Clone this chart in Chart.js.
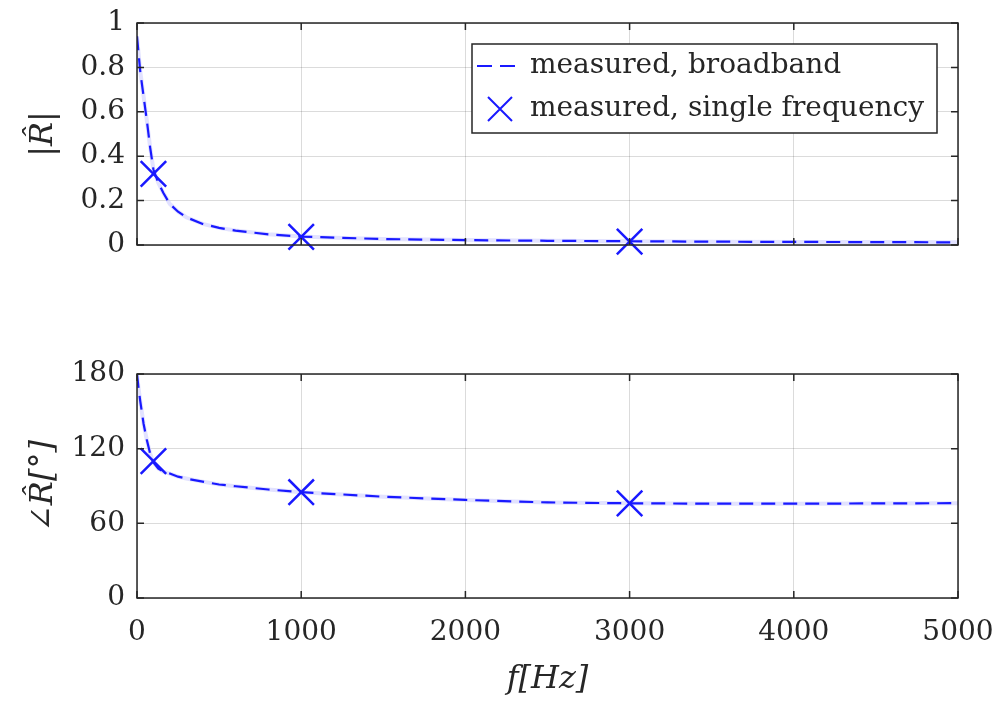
<!DOCTYPE html>
<html>
<head>
<meta charset="utf-8">
<script src="https://cdn.jsdelivr.net/npm/chart.js@4.4.1/dist/chart.umd.min.js"></script>
<style>
  html, body { margin: 0; padding: 0; background: #fff; }
  #top { position: absolute; left: 0; top: 0; width: 1000px; height: 270px; }
  #bot { position: absolute; left: 0; top: 340px; width: 1000px; height: 369px; }
</style>
</head>
<body>
<div id="top"><canvas id="magChart"></canvas></div>
<div id="bot"><canvas id="phaseChart"></canvas></div>
<script>
const freqBroad  = [0, 10, 20, 40, 60, 80, 100, 130, 160, 200, 250, 300, 400, 500, 600, 800, 1000, 1250, 1500, 2000, 2500, 3000, 3500, 4000, 4500, 5000];
const magBroad   = [0.94, 0.86, 0.78, 0.67, 0.56, 0.44, 0.34, 0.28, 0.235, 0.185, 0.15, 0.125, 0.095, 0.077, 0.065, 0.048, 0.038, 0.032, 0.027, 0.022, 0.019, 0.017, 0.015, 0.014, 0.013, 0.012];
const phaseBroad = [180, 168, 158, 140, 127, 116, 109, 104, 101.5, 100, 97.5, 96, 93.5, 91.2, 89.8, 87.2, 85, 83.2, 81.4, 78.8, 76.8, 76.1, 75.8, 75.8, 76, 76.2];

// single frequency measurements
const freqSingle  = [100, 1000, 3000];
const magSingle   = [0.32, 0.037, 0.015];
const phaseSingle = [110, 85, 76];

const xTicks     = [0, 1000, 2000, 3000, 4000, 5000];
const magTicks   = [0, 0.2, 0.4, 0.6, 0.8, 1];
const phaseTicks = [0, 60, 120, 180];

const labelBroad  = 'measured, broadband';
const labelSingle = 'measured, single frequency';

const BLUE = 'rgb(25,25,255)';
const DARK = '#262626';
const GRID = 'rgba(0,0,0,0.14)';
const SERIF = "'DejaVu Serif', 'Liberation Serif', serif";

function pts(xs, ys) {
  return xs.map((x, i) => ({ x: x, y: ys[i] }));
}

// box + inward tick marks like matlab
const boxPlugin = {
  id: 'box',
  afterDraw(chart) {
    const ctx = chart.ctx;
    const a = chart.chartArea;
    const xs = chart.scales.x, ys = chart.scales.y;
    ctx.save();
    ctx.strokeStyle = DARK;
    ctx.lineWidth = 1.5;
    ctx.beginPath();
    xs.ticks.forEach(t => {
      const px = xs.getPixelForValue(t.value);
      ctx.moveTo(px, a.bottom); ctx.lineTo(px, a.bottom - 7);
      ctx.moveTo(px, a.top); ctx.lineTo(px, a.top + 7);
    });
    ys.ticks.forEach(t => {
      const py = ys.getPixelForValue(t.value);
      ctx.moveTo(a.left, py); ctx.lineTo(a.left + 7, py);
      ctx.moveTo(a.right, py); ctx.lineTo(a.right - 7, py);
    });
    ctx.stroke();
    ctx.strokeRect(a.left, a.top, a.right - a.left, a.bottom - a.top);
    ctx.restore();
  }
};

// legend box inside the top axes
const legendPlugin = {
  id: 'boxLegend',
  afterDraw(chart) {
    if (chart.canvas.id !== 'magChart') return;
    const ctx = chart.ctx;
    const a = chart.chartArea;
    const right = a.right - 21, top = a.top + 21;
    const w = 465, h = 89;
    const left = right - w;
    ctx.save();
    ctx.fillStyle = '#fff';
    ctx.fillRect(left, top, w, h);
    ctx.strokeStyle = DARK;
    ctx.lineWidth = 1.5;
    ctx.strokeRect(left, top, w, h);

    const y1 = top + 22, y2 = top + 65;
    ctx.strokeStyle = BLUE;
    ctx.lineWidth = 2;
    ctx.setLineDash([15, 8]);
    ctx.beginPath();
    ctx.moveTo(left + 5, y1); ctx.lineTo(left + 46, y1);
    ctx.stroke();
    ctx.setLineDash([]);
    const cx = left + 28, r = 12;
    ctx.lineWidth = 2;
    ctx.beginPath();
    ctx.moveTo(cx - r, y2 - r); ctx.lineTo(cx + r, y2 + r);
    ctx.moveTo(cx - r, y2 + r); ctx.lineTo(cx + r, y2 - r);
    ctx.stroke();

    ctx.fillStyle = DARK;
    ctx.font = '28px ' + SERIF;
    ctx.textBaseline = 'middle';
    ctx.fillText(labelBroad, left + 58, y1);
    ctx.fillText(labelSingle, left + 58, y2);
    ctx.restore();
  }
};

function noPad(s) {
  s.paddingTop = 0; s.paddingBottom = 0; s.paddingLeft = 0; s.paddingRight = 0;
}

function xScale(showLabels) {
  return {
    type: 'linear',
    min: 0, max: 5000,
    afterBuildTicks: s => { s.ticks = xTicks.map(v => ({ value: v })); },
    grid: { color: GRID, drawTicks: false },
    border: { display: false },
    ticks: {
      display: showLabels, padding: 18, maxRotation: 0, color: DARK,
      font: { family: SERIF, size: 28 },
      callback: v => String(v)
    },
    title: {
      display: showLabels, text: 'f[Hz]', color: DARK,
      font: { family: SERIF, size: 32, style: 'italic' },
      padding: { top: 0, bottom: 10 }
    },
    afterFit: s => { s.height = showLabels ? 111 : 25; noPad(s); }
  };
}

function yScale(vals, max, titleText) {
  return {
    type: 'linear',
    min: 0, max: max,
    afterBuildTicks: s => { s.ticks = vals.map(v => ({ value: v })); },
    grid: { color: GRID, drawTicks: false },
    border: { display: false },
    ticks: {
      padding: 12, color: DARK,
      font: { family: SERIF, size: 28 },
      callback: v => String(v)
    },
    title: {
      display: true, text: titleText, color: DARK,
      font: { family: SERIF, size: 32, style: 'italic' },
      padding: { top: 24, bottom: 0 }
    },
    afterFit: s => { s.width = 137; noPad(s); }
  };
}

function makeChart(id, yBroad, ySingle, yTicks, yMax, yTitle, showX, padTop) {
  return new Chart(document.getElementById(id), {
    type: 'scatter',
    data: {
      datasets: [
        {
          label: labelBroad + ' (under)',
          data: pts(freqBroad, yBroad),
          showLine: true, pointRadius: 0,
          borderColor: 'rgba(190,190,255,0.45)', borderWidth: 4,
          order: 3
        },
        {
          label: labelBroad,
          data: pts(freqBroad, yBroad),
          showLine: true, pointRadius: 0,
          borderColor: BLUE, borderWidth: 2.2, borderDash: [14, 8],
          order: 2
        },
        {
          label: labelSingle,
          data: pts(freqSingle, ySingle),
          showLine: false,
          pointStyle: 'crossRot', pointRadius: 18, pointHoverRadius: 18,
          pointBorderColor: BLUE, pointBorderWidth: 2.5,
          clip: false,
          order: 1
        }
      ]
    },
    options: {
      responsive: true,
      maintainAspectRatio: false,
      animation: false,
      devicePixelRatio: 1,
      layout: { autoPadding: false, padding: { top: padTop, right: 42, left: 0, bottom: 0 } },
      plugins: { legend: { display: false }, tooltip: { enabled: false } },
      scales: {
        x: xScale(showX),
        y: yScale(yTicks, yMax, yTitle)
      }
    },
    plugins: [boxPlugin, legendPlugin]
  });
}

makeChart('magChart', magBroad, magSingle, magTicks, 1, '|R\u0302|', false, 23);
makeChart('phaseChart', phaseBroad, phaseSingle, phaseTicks, 180, '\u2220R\u0302[\u00b0]', true, 34);
</script>
</body>
</html>
